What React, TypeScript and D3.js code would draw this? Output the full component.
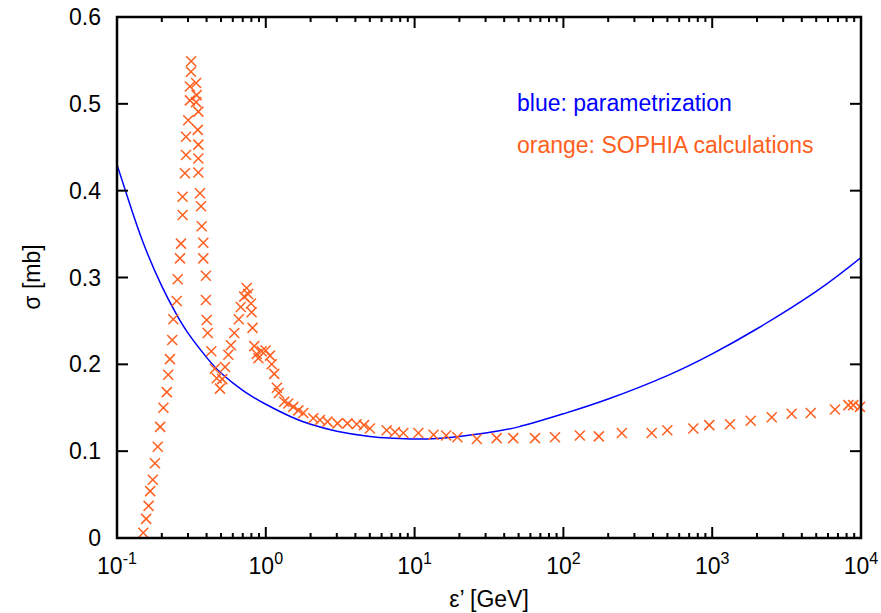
import React from 'react';
import * as d3 from 'd3';

// ---- data ----
const xTickExponents = [-1, 0, 1, 2, 3, 4];
const yTickValues = [0, 0.1, 0.2, 0.3, 0.4, 0.5, 0.6];
const yTickLabels = ['0', '0.1', '0.2', '0.3', '0.4', '0.5', '0.6'];

// parametrization (blue curve)
const paramEps = [0.1, 0.12, 0.15, 0.2, 0.25, 0.3, 0.4, 0.5, 0.7, 1.0, 1.5, 2, 3, 5, 7, 10, 15, 20, 30, 50, 100, 200, 500, 1000, 2000, 5000, 10000];
const paramSigma = [0.430, 0.388, 0.340, 0.290, 0.258, 0.236, 0.208, 0.190, 0.170, 0.154, 0.139, 0.131, 0.123, 0.117, 0.115, 0.114, 0.115, 0.117, 0.121, 0.128, 0.143, 0.160, 0.187, 0.212, 0.241, 0.284, 0.323];

// SOPHIA calculations (orange crosses)
const sophiaEps = [
  0.150, 0.157, 0.163, 0.167, 0.174, 0.180, 0.188, 0.195, 0.205, 0.216, 0.221, 0.227, 0.235, 0.239, 0.252, 0.256, 0.265, 0.269, 0.276, 0.276, 0.286, 0.291, 0.291, 0.301, 0.309, 0.309, 0.314, 0.315,
  0.340, 0.343, 0.340, 0.352, 0.349, 0.352, 0.352, 0.352, 0.361, 0.367, 0.371, 0.380, 0.380, 0.396, 0.396, 0.401, 0.407, 0.430, 0.454, 0.468, 0.492,
  0.510, 0.532, 0.560, 0.583, 0.614, 0.658, 0.679, 0.716, 0.744, 0.760,
  0.795, 0.803, 0.814, 0.837, 0.869, 0.891, 0.938, 0.998, 1.067, 1.096, 1.139, 1.188, 1.223, 1.33, 1.416, 1.531, 1.654, 1.786, 2.085, 2.312, 2.598, 3.034, 3.54, 4.08, 4.57, 5.01, 6.49, 7.38, 8.40, 10.6, 13.4, 16.3, 19.4, 26.2, 35.6, 46.0, 64.4, 87.8, 129, 173, 247, 392, 499, 746, 956, 1318, 1815, 2512, 3420, 4592, 6683, 8222, 8873, 9840,
];
const sophiaSigma = [
  0.006, 0.022, 0.037, 0.054, 0.067, 0.086, 0.105, 0.128, 0.150, 0.168, 0.188, 0.206, 0.228, 0.252, 0.273, 0.298, 0.322, 0.339, 0.372, 0.393, 0.420, 0.441, 0.462, 0.481, 0.504, 0.520, 0.537, 0.549,
  0.524, 0.510, 0.502, 0.491, 0.470, 0.453, 0.437, 0.421, 0.397, 0.382, 0.359, 0.340, 0.322, 0.302, 0.274, 0.251, 0.236, 0.215, 0.195, 0.184, 0.172,
  0.183, 0.197, 0.211, 0.222, 0.236, 0.252, 0.266, 0.278, 0.288, 0.281,
  0.270, 0.260, 0.242, 0.221, 0.212, 0.207, 0.215, 0.216, 0.210, 0.200, 0.189, 0.173, 0.167, 0.157, 0.155, 0.151, 0.147, 0.144, 0.138, 0.136, 0.134, 0.132, 0.132, 0.131, 0.130, 0.126, 0.124, 0.122, 0.121, 0.121, 0.119, 0.118, 0.116, 0.114, 0.115, 0.115, 0.115, 0.116, 0.118, 0.117, 0.121, 0.121, 0.124, 0.126, 0.130, 0.131, 0.135, 0.139, 0.143, 0.144, 0.148, 0.153, 0.153, 0.151,
];

const legendLines = [
  { text: 'blue: parametrization', color: '#0000ff' },
  { text: 'orange: SOPHIA calculations', color: '#ff6020' },
];

const W = 881;
const H = 613;
const L = 117, R = 861, T = 17, B = 538;
const FONT = '"Liberation Sans", Arial, Helvetica, sans-serif';
const FS = 23;
const ORANGE = '#ff6020';
const BLUE = '#0000ff';

export default function App() {
  const x = d3.scaleLog().domain([0.1, 10000]).range([L, R]);
  const y = d3.scaleLinear().domain([0, 0.6]).range([B, T]);

  const paramData = paramEps.map((e, i) => [e, paramSigma[i]] as [number, number]);
  const line = d3.line<[number, number]>()
    .x(d => x(d[0]))
    .y(d => y(d[1]))
    .curve(d3.curveNatural);
  const pathD = line(paramData) || '';

  const minorTicks: number[] = [];
  for (let p = -1; p < 4; p++) {
    for (let k = 2; k <= 9; k++) minorTicks.push(k * Math.pow(10, p));
  }
  const majorLen = 11;
  const minorLen = 5;
  const cs = 5;

  return (
    <svg width={W} height={H} style={{ position: 'absolute', left: 0, top: 0, background: '#fff' }} fontFamily={FONT}>
      <rect x={0} y={0} width={W} height={H} fill="#fff" />
      <defs>
        <clipPath id="plotClip">
          <rect x={L} y={T} width={R - L} height={B - T} />
        </clipPath>
      </defs>
      {/* blue parametrization curve */}
      <path d={pathD} fill="none" stroke={BLUE} strokeWidth={1.5} clipPath="url(#plotClip)" />
      {/* SOPHIA crosses */}
      <g stroke={ORANGE} strokeWidth={1.5}>
        {sophiaEps.map((e, i) => {
          const cx = x(e), cy = y(sophiaSigma[i]);
          return (
            <g key={i}>
              <line x1={cx - cs} y1={cy - cs} x2={cx + cs} y2={cy + cs} />
              <line x1={cx - cs} y1={cy + cs} x2={cx + cs} y2={cy - cs} />
            </g>
          );
        })}
      </g>
      {/* ticks */}
      <g stroke="#000" strokeWidth={2}>
        {xTickExponents.map(p => {
          const tx = x(Math.pow(10, p));
          return (
            <g key={'xm' + p}>
              <line x1={tx} x2={tx} y1={B} y2={B - majorLen} />
              <line x1={tx} x2={tx} y1={T} y2={T + majorLen} />
            </g>
          );
        })}
        {minorTicks.map((v, i) => {
          const tx = x(v);
          return (
            <g key={'xn' + i}>
              <line x1={tx} x2={tx} y1={B} y2={B - minorLen} />
              <line x1={tx} x2={tx} y1={T} y2={T + minorLen} />
            </g>
          );
        })}
        {yTickValues.map((v, i) => {
          const ty = y(v);
          return (
            <g key={'y' + i}>
              <line x1={L} x2={L + majorLen} y1={ty} y2={ty} />
              <line x1={R} x2={R - majorLen} y1={ty} y2={ty} />
            </g>
          );
        })}
      </g>
      {/* frame */}
      <rect x={L} y={T} width={R - L} height={B - T} fill="none" stroke="#000" strokeWidth={2.5} />
      {/* y tick labels */}
      <g fontSize={FS} fill="#000" textAnchor="end">
        {yTickValues.map((v, i) => (
          <text key={'yl' + i} x={L - 16} y={y(v) + 8}>{yTickLabels[i]}</text>
        ))}
      </g>
      {/* x tick labels */}
      <g fontSize={FS} fill="#000" textAnchor="middle">
        {xTickExponents.map(p => (
          <text key={'xl' + p} x={x(Math.pow(10, p))} y={574}>
            10<tspan fontSize={16} dy={-10}>{String(p)}</tspan>
          </text>
        ))}
      </g>
      {/* axis titles */}
      <text x={489} y={607} fontSize={FS} textAnchor="middle" fill="#000">ε’ [GeV]</text>
      <text transform="translate(40,277) rotate(-90)" fontSize={FS} textAnchor="middle" fill="#000">σ [mb]</text>
      {/* legend text */}
      {legendLines.map((l, i) => (
        <text key={'lg' + i} x={517} y={111 + i * 42} fontSize={FS} fill={l.color}>{l.text}</text>
      ))}
    </svg>
  );
}
